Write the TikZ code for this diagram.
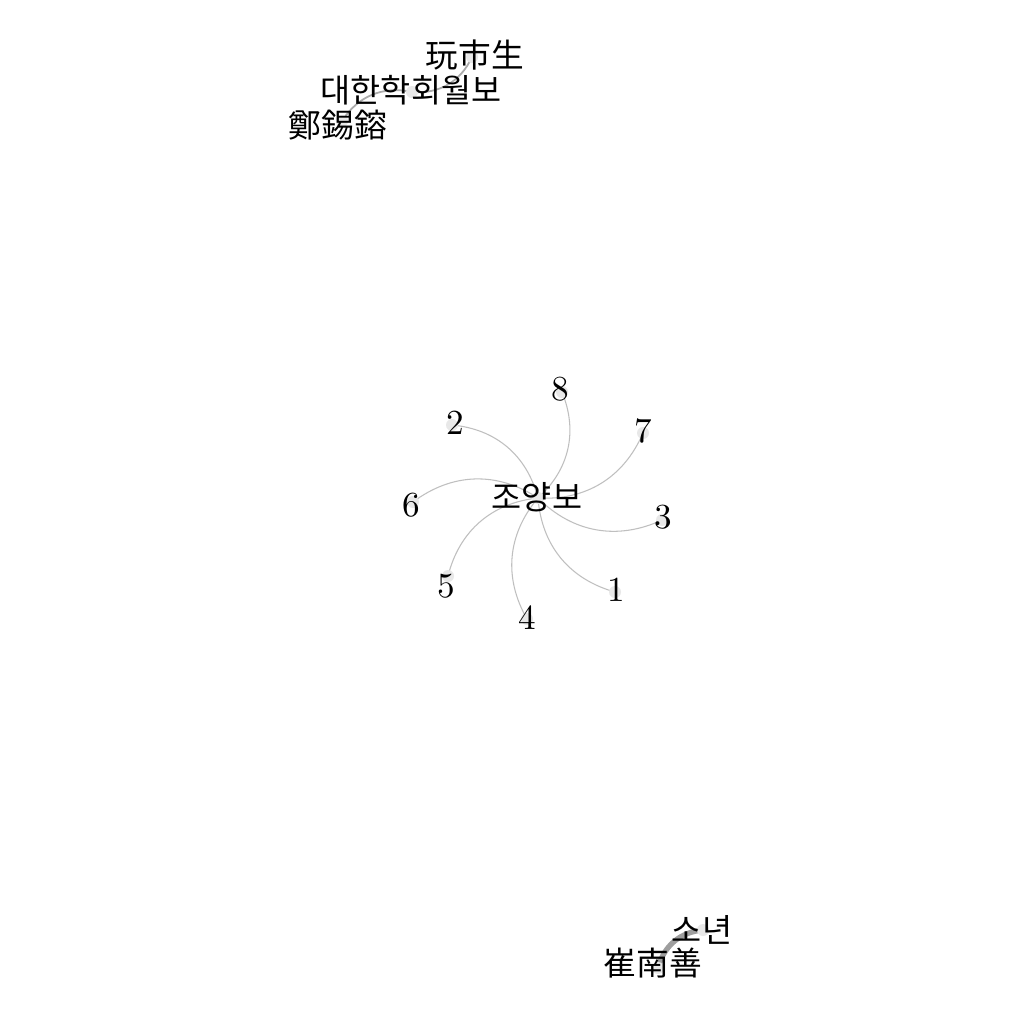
\documentclass[tikz,border=0pt]{standalone}
\usepackage{fontspec}
\newfontfamily\kofont{Noto Sans CJK KR}
\tikzset{
  dot/.style={circle, fill=black!9, inner sep=0pt, minimum size=0.12cm},
  kolbl/.style={font=\kofont\fontsize{9.3}{11}\selectfont, inner sep=0pt},
  numlbl/.style={font=\fontsize{10}{12}\selectfont, inner sep=0pt},
  thinedge/.style={draw=black!25, line width=0.3pt},
  midedge/.style={draw=black!33, line width=0.5pt},
  thickedge/.style={draw=black!38, line width=1.5pt}
}
\begin{document}
\begin{tikzpicture}[x=0.01cm,y=-0.01cm]
       \useasboundingbox[fill=white] (0,0) rectangle (1024,1024);
       % node points
       \coordinate (wan) at (472,57);
       \coordinate (dhw) at (412,92);
       \coordinate (jeong) at (342,121);
       \coordinate (jyb) at (538,498);
       \coordinate (n1) at (615,592);
       \coordinate (n2) at (452,425);
       \coordinate (n3) at (662,520);
       \coordinate (n4) at (527,619);
       \coordinate (n5) at (448,576);
       \coordinate (n6) at (413,502);
       \coordinate (n7) at (643,433);
       \coordinate (n8) at (562,392);
       \coordinate (choi) at (658,968);
       \coordinate (sonyeon) at (703,930);
       % edges
       \draw[midedge] (dhw) to[bend right=35] (wan);
       \draw[midedge] (dhw) to[bend right=35] (jeong);
       \foreach \n in {1,...,8}
         \draw[thinedge] (jyb) to[bend right=35] (n\n);
       \draw[thickedge] (choi) to[bend left=35] (sonyeon);
       % dots
       \foreach \p in {wan,dhw,jeong,jyb,n1,n2,n3,n4,n5,n6,n7,n8,choi,sonyeon}
         \node[dot] (\p-dot) at (\p) {};
       % labels
       \node[kolbl] (wan-t) at (475,55) {玩市生};
       \node[kolbl] (dhw-t) at (411,90) {대한학회월보};
       \node[kolbl] (jeong-t) at (338,125) {鄭錫鎔};
       \node[kolbl] (jyb-t) at (537,497) {조양보};
       \node[numlbl] (n1-t) at (616,590) {1};
       \node[numlbl] (n2-t) at (455,423) {2};
       \node[numlbl] (n3-t) at (663,517) {3};
       \node[numlbl] (n4-t) at (527,618) {4};
       \node[numlbl] (n5-t) at (446,586) {5};
       \node[numlbl] (n6-t) at (411,505) {6};
       \node[numlbl] (n7-t) at (643,431) {7};
       \node[numlbl] (n8-t) at (560,389) {8};
       \node[kolbl] (choi-t) at (653,963) {崔南善};
       \node[kolbl] (sonyeon-t) at (702,930) {소년};
      \end{tikzpicture}
\end{document}
